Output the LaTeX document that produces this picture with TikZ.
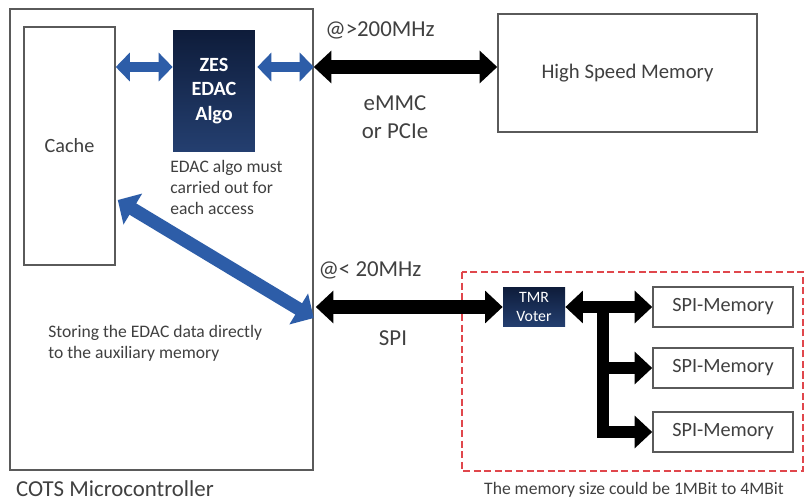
\documentclass[tikz,border=0pt]{standalone}
\usepackage{fontspec}
\setmainfont{Carlito}
\usepackage{xcolor}
\usetikzlibrary{calc,arrows.meta}
\definecolor{ink}{HTML}{404040}
\definecolor{frame}{HTML}{5A5A5A}
\definecolor{bluearr}{HTML}{2D5DA8}
\definecolor{navytop}{HTML}{0E1C3A}
\definecolor{navybot}{HTML}{243F70}
\definecolor{dashred}{HTML}{E0474C}
\tikzset{
  box/.style={draw=frame, line width=0.9pt, fill=white, text=ink, inner sep=0pt},
  dark/.style={top color=navytop, bottom color=navybot, text=white, align=center, inner sep=0pt},
  lab/.style={text=ink, font=\fontsize{13}{16}\selectfont, align=center},
  note/.style={text=ink, font=\fontsize{10}{11.8}\selectfont, align=left, inner sep=0pt},
  bhead/.tip={Triangle[width=16pt,length=8pt]},
  dhead/.tip={Triangle[width=20pt,length=10pt]},
  khead/.tip={Triangle[width=18pt,length=10pt]},
  bluebus/.style={draw=bluearr, line width=6.2pt},
  blackbus/.style={draw=black, line width=7.5pt, line join=miter},
}
\begin{document}
\begin{tikzpicture}[x=0.02cm,y=-0.02cm]
  \useasboundingbox (0,0) rectangle (804,500);
  % microcontroller side
  \node[box, minimum width=6.06cm, minimum height=9.22cm] (cots) at (161.5,239.5) {};
  \node[box, minimum width=1.82cm, minimum height=4.76cm,
        font=\fontsize{11.5}{14}\selectfont] (cache) at (69.5,146) {Cache};
  \node[dark, minimum width=1.64cm, minimum height=2.44cm,
        font=\fontsize{11.5}{14}\selectfont\bfseries] (zes) at (214,91) {ZES\\EDAC\\Algo};
  \node[note, anchor=north west] (algonote) at (170,160) {EDAC algo must\\carried out for\\each access};
  \node[note, anchor=north west] (storenote) at (48,325) {Storing the EDAC data directly\\to the auxiliary memory};
  \node[lab, anchor=west] (cotslab) at (10,489) {COTS Microcontroller};
  % memories
  \node[box, minimum width=5.18cm, minimum height=2.36cm,
        font=\fontsize{11.8}{14}\selectfont] (hsm) at (627.5,73) {High Speed Memory};
  \draw[dashred, line width=1.1pt, dash pattern=on 4pt off 2pt] (462,272) rectangle (803,471);
  \node[dark, minimum width=1.24cm, minimum height=0.8cm,
        font=\fontsize{9}{10.5}\selectfont] (tmr) at (534,307) {TMR\\Voter};
  \foreach \i/\y in {1/307,2/368,3/432}
    \node[box, minimum width=2.8cm, minimum height=0.8cm,
          font=\fontsize{11.5}{14}\selectfont] (mem\i) at (723,\y) {SPI-Memory};
  \node[note, anchor=center] (sizenote) at (634,490) {The memory size could be 1MBit to 4MBit};
  % bus labels
  \node[lab] (fastlab) at (380,30) {@>200MHz};
  \node[lab] (ifacelab) at (395,117) {eMMC\\or PCIe};
  \node[lab] (slowlab) at (370,270) {@< 20MHz};
  \node[lab] (spilab) at (393,338) {SPI};
  % connectors
  \coordinate (upper) at (0,67);
  \coordinate (diagtop) at (0,200);
  \coordinate (diagbot) at (0,318);
  \coordinate (bus) at (603,307);
  \draw[bluebus, {bhead}-{bhead}] (cache.east |- upper) -- (zes.west |- upper);
  \draw[bluebus, {bhead}-{bhead}] ($(zes.east |- upper)+(2,0)$) -- (cots.east |- upper);
  \draw[blackbus, {khead}-{khead}] (cots.east |- upper) -- (hsm.west |- upper);
  \draw[bluebus, line width=7.5pt, {dhead}-{dhead}] ($(cache.east |- diagtop)+(2,0)$) -- (cots.east |- diagbot);
  \draw[blackbus, {khead}-{khead}] ($(cots.east |- tmr)+(2,0)$) -- (tmr.west);
  \draw[blackbus, line width=7pt, {khead}-{khead}] (tmr.east) -- (mem1.west);
  \draw[blackbus, line width=7pt, -{khead}] (bus) -- (bus |- mem3) -- (mem3.west);
  \draw[blackbus, line width=7pt, -{khead}] (bus |- mem2) -- (mem2.west);
\end{tikzpicture}
\end{document}
